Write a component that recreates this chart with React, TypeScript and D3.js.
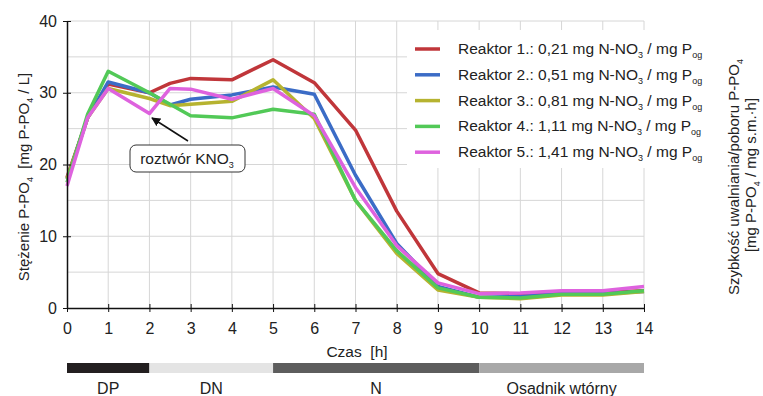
import React, { useEffect, useRef } from "react";
import * as d3 from "d3";

const hours = [0, 0.5, 1, 2, 2.5, 3, 4, 5, 6, 7, 8, 9, 10, 11, 12, 13, 14];

const reaktor1 = [18.2, 26.5, 31.2, 30.0, 31.3, 32.0, 31.8, 34.6, 31.4, 24.8, 13.5, 4.8, 2.1, 2.0, 2.2, 2.2, 2.4];
const reaktor2 = [18.0, 26.5, 31.5, 30.0, 28.3, 29.1, 29.7, 30.8, 29.8, 18.5, 9.0, 3.0, 1.5, 1.6, 2.0, 2.0, 2.3];
const reaktor3 = [18.0, 26.5, 30.6, 29.2, 28.2, 28.4, 28.8, 31.8, 26.4, 15.0, 7.6, 2.5, 1.5, 1.3, 1.8, 1.8, 2.3];
const reaktor4 = [17.5, 27.0, 33.0, 30.0, 28.4, 26.8, 26.5, 27.7, 27.0, 15.0, 8.0, 2.8, 1.5, 1.4, 1.9, 1.9, 2.4];
const reaktor5 = [17.0, 26.5, 30.6, 27.1, 30.6, 30.5, 29.1, 30.6, 26.8, 16.8, 8.7, 3.5, 2.0, 2.1, 2.4, 2.4, 3.0];

const seriesNames = ["Reaktor 1.: 0,21", "Reaktor 2.: 0,51", "Reaktor 3.: 0,81", "Reaktor 4.: 1,11", "Reaktor 5.: 1,41"];
const seriesValues = [reaktor1, reaktor2, reaktor3, reaktor4, reaktor5];
const colors = ["#c0363a", "#3b6cc6", "#b6b330", "#52c957", "#de62de"];

const phases = [
    { label: "DP", from: 0, to: 2, color: "#231f20" },
    { label: "DN", from: 2, to: 5, color: "#e4e4e4" },
    { label: "N", from: 5, to: 10, color: "#5d5d5d" },
    { label: "Osadnik wtórny", from: 10, to: 14, color: "#a8a8a8" },
];

const xTicks = d3.range(0, 15);
const yTicks = [0, 10, 20, 30, 40];

export default function App() {
    const width = 763;
    const height = 396;
    const ref = useRef(null);
    const font = "'Liberation Sans', Arial, sans-serif";

    useEffect(() => {
        const svg = d3.select(ref.current);
        svg.selectAll("*").remove();

        const x = d3.scaleLinear().domain([0, 14]).range([67, 644]);
        const y = d3.scaleLinear().domain([0, 40]).range([308, 21]);

        // grid
        const grid = svg.append("g");
        grid.selectAll(".vg")
            .data(xTicks.slice(1))
            .enter()
            .append("line")
            .attr("x1", d => x(d)).attr("x2", d => x(d))
            .attr("y1", y(0)).attr("y2", y(40))
            .attr("stroke", "#d6d6d6").attr("stroke-width", 1);
        grid.selectAll(".hg")
            .data(d3.range(5, 45, 5))
            .enter()
            .append("line")
            .attr("x1", x(0)).attr("x2", x(14))
            .attr("y1", d => y(d)).attr("y2", d => y(d))
            .attr("stroke", "#d6d6d6").attr("stroke-width", 1);

        // legend background hides grid
        svg.append("rect")
            .attr("x", 407).attr("y", 30)
            .attr("width", 310).attr("height", 138)
            .attr("fill", "white");

        // lines
        const line = d3.line()
            .x((d, i) => x(hours[i]))
            .y(d => y(d));

        seriesValues.forEach((vals, i) => {
            svg.append("path")
                .datum(vals)
                .attr("d", line)
                .attr("fill", "none")
                .attr("stroke", colors[i])
                .attr("stroke-width", 3.5)
                .attr("stroke-linejoin", "round");
        });

        // axes
        const xAxis = svg.append("g").attr("transform", `translate(0, ${y(0)})`);
        xAxis.call(d3.axisBottom(x).tickValues(xTicks).tickSize(4).tickSizeOuter(0).tickPadding(11));
        xAxis.selectAll(".tick line").attr("y1", -4).attr("stroke", "#111");
        xAxis.select(".domain").attr("stroke", "#111").attr("stroke-width", 1.5);
        xAxis.selectAll("text")
            .style("font-family", font)
            .style("font-size", "16px")
            .attr("fill", "#222");

        const yAxis = svg.append("g").attr("transform", `translate(${x(0)}, 0)`);
        yAxis.call(d3.axisLeft(y).tickValues(yTicks).tickSize(4).tickSizeOuter(0).tickPadding(6));
        yAxis.selectAll(".tick line").attr("x1", 4).attr("stroke", "#111");
        yAxis.select(".domain").attr("stroke", "#111").attr("stroke-width", 1.5);
        yAxis.selectAll("text")
            .style("font-family", font)
            .style("font-size", "16px")
            .attr("fill", "#222");

        // legend
        seriesNames.forEach((name, i) => {
            const ly = 49 + i * 25.8;
            svg.append("line")
                .attr("x1", 415).attr("x2", 440)
                .attr("y1", ly).attr("y2", ly)
                .attr("stroke", colors[i]).attr("stroke-width", 3.5);
            const t = svg.append("text")
                .attr("x", 458).attr("y", ly + 5)
                .attr("font-family", font).attr("font-size", 15.5).attr("fill", "#222");
            t.append("tspan").text(name + " mg N-NO");
            t.append("tspan").text("3").attr("font-size", 9).attr("dy", 4);
            t.append("tspan").text(" / mg P").attr("dy", -4);
            t.append("tspan").text("og").attr("font-size", 9).attr("dy", 4);
        });

        // annotation
        const defs = svg.append("defs");
        defs.append("marker")
            .attr("id", "arrow")
            .attr("viewBox", "0 0 10 10")
            .attr("refX", 9).attr("refY", 5)
            .attr("markerWidth", 9).attr("markerHeight", 9)
            .attr("markerUnits", "userSpaceOnUse")
            .attr("orient", "auto")
            .append("path")
            .attr("d", "M0,0 L10,5 L0,10 Z")
            .attr("fill", "#111");
        svg.append("line")
            .attr("x1", 188).attr("y1", 141)
            .attr("x2", 152).attr("y2", 118)
            .attr("stroke", "#111").attr("stroke-width", 1.5)
            .attr("marker-end", "url(#arrow)");
        svg.append("rect")
            .attr("x", 130).attr("y", 145)
            .attr("width", 115).attr("height", 27)
            .attr("rx", 6)
            .attr("fill", "white").attr("stroke", "#333").attr("stroke-width", 1);
        const at = svg.append("text")
            .attr("x", 187).attr("y", 164)
            .attr("text-anchor", "middle")
            .attr("font-family", font).attr("font-size", 15.5).attr("fill", "#222");
        at.append("tspan").text("roztwór KNO");
        at.append("tspan").text("3").attr("font-size", 9).attr("dy", 4);

        // axis titles
        svg.append("text")
            .attr("x", 357).attr("y", 357)
            .attr("text-anchor", "middle")
            .attr("font-family", font).attr("font-size", 15.5).attr("fill", "#222")
            .attr("xml:space", "preserve")
            .text("Czas  [h]");

        const yt = svg.append("text")
            .attr("transform", "translate(29, 177) rotate(-90)")
            .attr("text-anchor", "middle")
            .attr("font-family", font).attr("font-size", 15).attr("fill", "#222")
            .attr("xml:space", "preserve");
        yt.append("tspan").text("Stężenie P-PO");
        yt.append("tspan").text("4").attr("font-size", 9).attr("dy", 4);
        yt.append("tspan").text("  [mg P-PO").attr("dy", -4);
        yt.append("tspan").text("4").attr("font-size", 9).attr("dy", 4);
        yt.append("tspan").text(" / L]").attr("dy", -4);

        const rt1 = svg.append("text")
            .attr("transform", "translate(739, 177) rotate(-90)")
            .attr("text-anchor", "middle")
            .attr("font-family", font).attr("font-size", 15).attr("fill", "#222");
        rt1.append("tspan").text("Szybkość uwalniania/poboru P-PO");
        rt1.append("tspan").text("4").attr("font-size", 9).attr("dy", 4);

        const rt2 = svg.append("text")
            .attr("transform", "translate(756, 175) rotate(-90)")
            .attr("text-anchor", "middle")
            .attr("font-family", font).attr("font-size", 15).attr("fill", "#222");
        rt2.append("tspan").text("[mg P-PO");
        rt2.append("tspan").text("4").attr("font-size", 9).attr("dy", 4);
        rt2.append("tspan").text(" / mg s.m.·h]").attr("dy", -4);

        // phase bar
        svg.selectAll(".phase")
            .data(phases)
            .enter()
            .append("rect")
            .attr("x", d => x(d.from))
            .attr("y", 363)
            .attr("width", d => x(d.to) - x(d.from))
            .attr("height", 10)
            .attr("fill", d => d.color);

        svg.selectAll(".phaseLabel")
            .data(phases)
            .enter()
            .append("text")
            .attr("x", d => (x(d.from) + x(d.to)) / 2)
            .attr("y", 394)
            .attr("text-anchor", "middle")
            .attr("font-family", font)
            .attr("font-size", 16)
            .attr("fill", "#222")
            .text(d => d.label);
    }, []);

    return (
        <svg
            width={width}
            height={height}
            style={{ position: "absolute", left: 0, top: 0, background: "white" }}
        >
            <g ref={ref} />
        </svg>
    );
}
